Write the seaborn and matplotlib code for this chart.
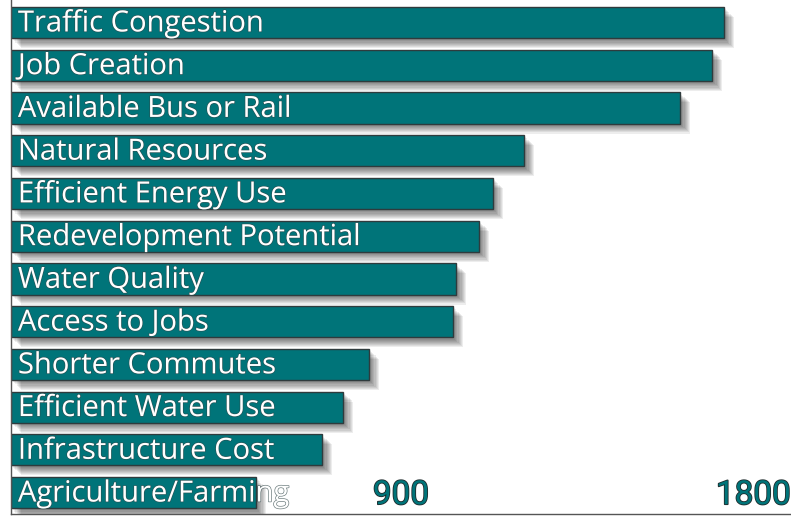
import pandas as pd
import seaborn as sns
import matplotlib.pyplot as plt
import matplotlib.patheffects as pe

sns.set_style("white")

# datos
categorias = ["Traffic Congestion", "Job Creation", "Available Bus or Rail",
              "Natural Resources", "Efficient Energy Use", "Redevelopment Potential",
              "Water Quality", "Access to Jobs", "Shorter Commutes",
              "Efficient Water Use", "Infrastructure Cost", "Agriculture/Farming"]
valores = [1645, 1618, 1544, 1184, 1112, 1080, 1027, 1020, 826, 766, 718, 565]
ticks = [450, 900, 1350, 1800]
tick_labels = ["", "900", "", "1800"]

df = pd.DataFrame({"tema": categorias, "votos": valores})

teal = "#007479"

fig = plt.figure(figsize=(7.91, 5.18), dpi=100)
ax = fig.add_axes([11 / 791, 4 / 518, 780 / 791, 1 - 4 / 518 + 0.006])

sns.barplot(data=df, x="votos", y="tema", orient="h", color=teal, saturation=1,
            edgecolor="#2f3b3d", linewidth=1.0, width=0.73, ax=ax)

# sombra difusa de las barras
sombra = [pe.SimplePatchShadow(offset=(o * 0.8, -o * 0.8), shadow_rgbFace="black", alpha=0.07)
          for o in range(1, 10)]
for p in ax.patches:
    p.set_path_effects(sombra + [pe.Normal()])

# etiquetas dentro de las barras
for i, txt in enumerate(categorias):
    ax.annotate(txt, xy=(0, i), xytext=(5, -1), textcoords="offset points",
                ha="left", va="center", color="white", fontsize=21,
                family=["Open Sans", "DejaVu Sans"],
                path_effects=[pe.withStroke(linewidth=1.0, foreground="#33494b", alpha=0.7)])

ax.set_xlim(0, 1800)
ax.set_ylim(11.5, -0.6)
ax.set_xticks(ticks)
ax.set_xticklabels(tick_labels)
ax.set_yticks([])
ax.set_xlabel("")
ax.set_ylabel("")

for s in ["top", "right"]:
    ax.spines[s].set_visible(False)
for s in ["left", "bottom"]:
    ax.spines[s].set_color("#555555")
    ax.spines[s].set_linewidth(1.0)

ax.tick_params(axis="x", direction="in", length=7, width=1, color="#444444", pad=-2)
for lab in ax.get_xticklabels():
    lab.set_va("bottom")
    lab.set_family(["Roboto", "DejaVu Sans"])
    lab.set_fontsize(24)
    lab.set_color(teal)
    lab.set_path_effects([pe.withStroke(linewidth=1.2, foreground="#1f2a2b")])
ax.get_xticklabels()[-1].set_ha("right")

fig.savefig("out.png", dpi=100)
